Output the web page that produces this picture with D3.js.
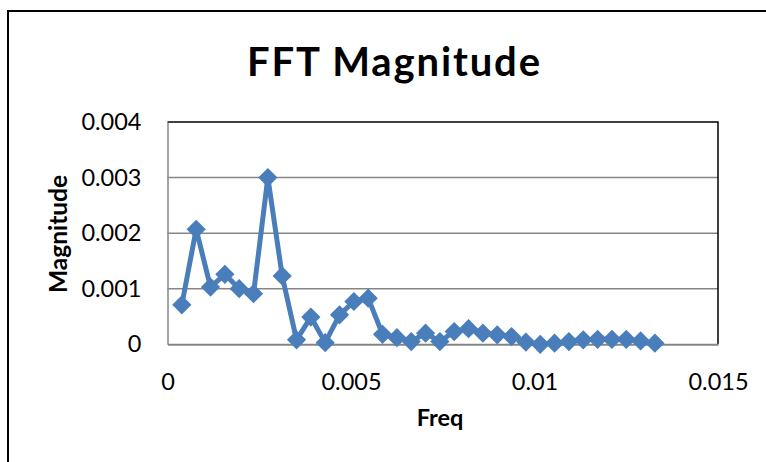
<!DOCTYPE html>
<html>
<head>
<meta charset="utf-8">
<script src="https://cdn.jsdelivr.net/npm/d3@7"></script>
<style>
  html, body { margin: 0; padding: 0; background: #fff; }
  svg { display: block; font-family: Lato, "Open Sans", sans-serif; }
</style>
</head>
<body>
<svg id="chart" width="766" height="462"></svg>
<script>
// FFT bins: frequency index k, frequency = k / 2560
const binIndex = [1,2,3,4,5,6,7,8,9,10,11,12,13,14,15,16,17,18,19,20,21,22,23,24,25,26,27,28,29,30,31,32,33,34];
const sampleCount = 2560;
const magnitude = [
  0.00071, 0.00207, 0.00103, 0.00126, 0.00100, 0.00091, 0.00300, 0.00123,
  0.00008, 0.00049, 0.00003, 0.00053, 0.00077, 0.00083, 0.00018, 0.00012,
  0.00005, 0.00020, 0.00005, 0.00023, 0.00028, 0.00020, 0.00017, 0.00014,
  0.00004, 0.00000, 0.00002, 0.00005, 0.00008, 0.00009, 0.00009, 0.00009,
  0.00006, 0.00002
];
const xTicks = [0, 0.005, 0.01, 0.015];
const yTicks = [0, 0.001, 0.002, 0.003, 0.004];

const data = binIndex.map((k, i) => ({ f: k / sampleCount, m: magnitude[i] }));

const svg = d3.select("#chart");
const plot = { left: 167.5, right: 718, top: 122, bottom: 344.3 };

const x = d3.scaleLinear().domain([0, 0.015]).range([plot.left, plot.right]);
const y = d3.scaleLinear().domain([0, 0.004]).range([plot.bottom, plot.top]);

// chart frame
svg.append("rect")
  .attr("x", 8).attr("y", 11).attr("width", 770).attr("height", 470)
  .attr("fill", "none").attr("stroke", "#000").attr("stroke-width", 2);

// title
svg.append("text")
  .attr("x", 393.5).attr("y", 75.5)
  .attr("text-anchor", "middle")
  .attr("font-weight", "bold").attr("font-size", 40)
  .attr("textLength", 293).attr("lengthAdjust", "spacing")
  .text("FFT Magnitude");

// horizontal gridlines
svg.append("g")
  .selectAll("line")
  .data(yTicks.slice(1, -1))
  .join("line")
  .attr("x1", plot.left).attr("x2", plot.right)
  .attr("y1", d => y(d)).attr("y2", d => y(d))
  .attr("stroke", "#868686").attr("stroke-width", 1.5);

// plot area outline: dark top and right
svg.append("path")
  .attr("d", `M${plot.left},${plot.top}H${plot.right}V${plot.bottom}`)
  .attr("fill", "none").attr("stroke", "#000").attr("stroke-width", 1.5);

// y axis
const yAxis = d3.axisLeft(y).tickValues(yTicks)
  .tickFormat(d => d === 0 ? "0" : d3.format(".3f")(d))
  .tickSize(0).tickPadding(26);
const gy = svg.append("g").attr("transform", `translate(${plot.left},0)`).call(yAxis);
gy.select(".domain").attr("stroke", "#868686").attr("stroke-width", 1.5);
gy.selectAll("text").attr("font-size", 23.5).attr("fill", "#000").attr("font-family", "Lato, sans-serif");

// x axis
const xAxis = d3.axisBottom(x).tickValues(xTicks)
  .tickFormat(d => d === 0 ? "0" : String(+d.toFixed(3)))
  .tickSize(0).tickPadding(29);
const gx = svg.append("g").attr("transform", `translate(0,${plot.bottom})`).call(xAxis);
gx.select(".domain").attr("stroke", "#868686").attr("stroke-width", 2);
gx.selectAll("text").attr("font-size", 23.5).attr("fill", "#000").attr("font-family", "Lato, sans-serif");

// axis titles
svg.append("text")
  .attr("x", 440).attr("y", 426)
  .attr("text-anchor", "middle")
  .attr("font-weight", "bold").attr("font-size", 23.5)
  .text("Freq");

svg.append("text")
  .attr("transform", "translate(67,234) rotate(-90)")
  .attr("text-anchor", "middle")
  .attr("font-weight", "bold").attr("font-size", 24.5)
  .text("Magnitude");

// series line
const line = d3.line().x(d => x(d.f)).y(d => y(d.m));
svg.append("path")
  .datum(data)
  .attr("d", line)
  .attr("fill", "none")
  .attr("stroke", "#4A7EBB")
  .attr("stroke-width", 5)
  .attr("stroke-linejoin", "round");

// diamond markers
const diamond = d3.symbol().type(d3.symbolSquare).size(185);
svg.append("g")
  .selectAll("path")
  .data(data)
  .join("path")
  .attr("transform", d => `translate(${x(d.f)},${y(d.m)}) rotate(45)`)
  .attr("d", diamond)
  .attr("fill", "#4A7EBB");
</script>
</body>
</html>
